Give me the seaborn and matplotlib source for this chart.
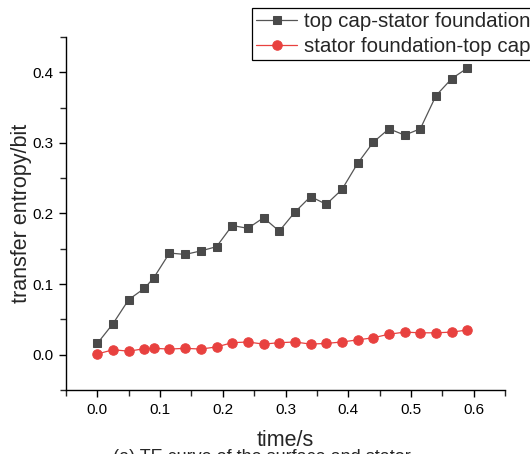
import numpy as np
import pandas as pd
import matplotlib
matplotlib.use("Agg")
import matplotlib.pyplot as plt
from matplotlib.ticker import MultipleLocator
import seaborn as sns

time_s = [0.0, 0.025, 0.05, 0.075, 0.09, 0.115, 0.14, 0.165, 0.19, 0.215, 0.24, 0.265, 0.29,
          0.315, 0.34, 0.365, 0.39, 0.415, 0.44, 0.465, 0.49, 0.515, 0.54, 0.565, 0.59]
te_cap_to_stator = [0.016, 0.044, 0.078, 0.094, 0.109, 0.144, 0.142, 0.147, 0.153, 0.183,
                    0.179, 0.194, 0.175, 0.202, 0.224, 0.213, 0.234, 0.271, 0.301, 0.320,
                    0.311, 0.320, 0.367, 0.391, 0.406]
te_stator_to_cap = [0.001, 0.007, 0.005, 0.0085, 0.009, 0.008, 0.009, 0.008, 0.011, 0.017,
                    0.018, 0.015, 0.017, 0.018, 0.015, 0.016, 0.018, 0.021, 0.024, 0.029,
                    0.032, 0.031, 0.031, 0.032, 0.035]
labels = ["top cap-stator foundation", "stator foundation-top cap"]

sns.set_style("ticks")
plt.rcParams["font.family"] = ["Liberation Sans", "DejaVu Sans"]

fig = plt.figure(figsize=(5.30, 4.54), dpi=100)
ax = fig.add_axes([66/530, 1-390/454, (505-66)/530, (390-37)/454])

df1 = pd.DataFrame({"time": time_s, "te": te_cap_to_stator})
df2 = pd.DataFrame({"time": time_s, "te": te_stator_to_cap})
sns.lineplot(data=df1, x="time", y="te", ax=ax, color="#555555", linewidth=0.9,
             marker="s", markersize=6, markerfacecolor="#4a4a4a",
             markeredgecolor="#4a4a4a", label=labels[0])
sns.lineplot(data=df2, x="time", y="te", ax=ax, color="#e8413f", linewidth=0.9,
             marker="o", markersize=6.8, markerfacecolor="#e8413f",
             markeredgecolor="#e8413f", label=labels[1])

ax.set_xlim(-0.05, 0.65)
ax.set_ylim(-0.05, 0.45)
ax.xaxis.set_minor_locator(MultipleLocator(0.05))
ax.yaxis.set_minor_locator(MultipleLocator(0.05))
ax.set_xticks([0.0, 0.1, 0.2, 0.3, 0.4, 0.5, 0.6])
ax.set_xticklabels(["0.0", "0.1", "0.2", "0.3", "0.4", "0.5", "0.6"])
ax.set_yticks([0.0, 0.1, 0.2, 0.3, 0.4])
ax.set_yticklabels(["0.0", "0.1", "0.2", "0.3", "0.4"])
ax.tick_params(which="major", direction="out", length=5, width=1, labelsize=11,
               colors="black", pad=4)
ax.tick_params(which="minor", direction="out", length=4, width=1)
for s in ["top", "right"]:
    ax.spines[s].set_visible(False)
for s in ["left", "bottom"]:
    ax.spines[s].set_color("black")
    ax.spines[s].set_linewidth(1)

ax.set_xlabel("time/s", fontsize=15.5, labelpad=10)
ax.set_ylabel("transfer entropy/bit", fontsize=15.5, labelpad=0)

ax.get_legend().remove()
h, l = ax.get_legend_handles_labels()
leg = fig.legend(h, l, loc="upper left", bbox_to_anchor=(252/530, 1-8/454),
                 fontsize=14.8, frameon=True, fancybox=False, framealpha=1,
                 edgecolor="black", borderpad=0.2, handlelength=2.0,
                 handletextpad=0.35, labelspacing=0.3, borderaxespad=0)
leg.get_frame().set_linewidth(0.9)

fig.text(262/530, 1-449/454, "(a) TE curve of the surface and stator", ha="center",
         va="top", fontsize=13)

fig.savefig("out.png", dpi=100)
